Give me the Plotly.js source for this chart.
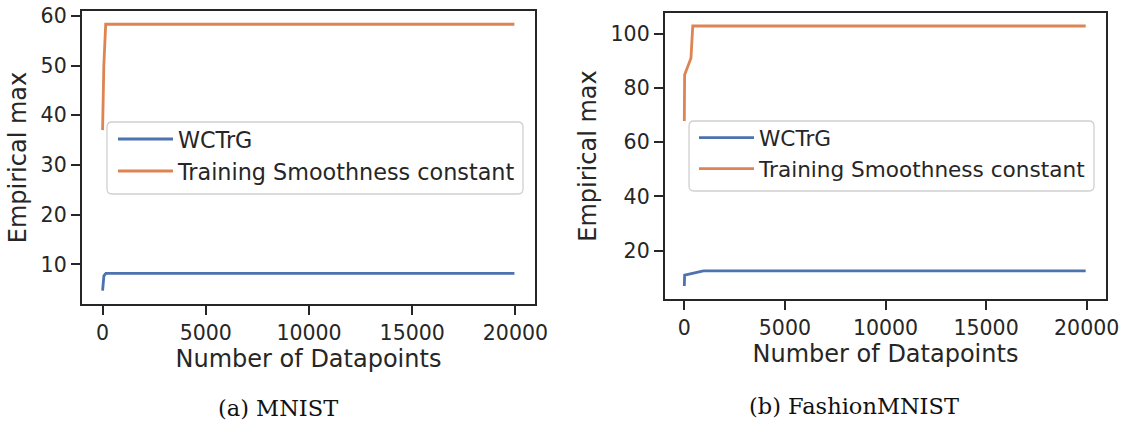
<!DOCTYPE html>
<html>
<head>
<meta charset="utf-8">
<script src="https://cdn.plot.ly/plotly-3.0.1.min.js"></script>
<style>html,body{margin:0;padding:0;background:#fff;}#chart{width:1123px;height:423px;}</style>
</head>
<body>
<div id="chart"></div>
<script>
// ---- data ----
const seriesNames = ["WCTrG", "Training Smoothness constant"];

// (a) MNIST
const mnistWctrgX = [0, 30, 63, 160, 19950];
const mnistWctrgY = [4.7, 6.9, 7.7, 8.2, 8.2];
const mnistSmoothX = [0, 60, 150, 19950];
const mnistSmoothY = [37.0, 50.0, 58.3, 58.3];

// (b) FashionMNIST
const fashionWctrgX = [0, 15, 950, 19950];
const fashionWctrgY = [7.0, 11.0, 12.6, 12.6];
const fashionSmoothX = [0, 15, 330, 420, 19950];
const fashionSmoothY = [67.8, 84.8, 90.9, 102.8, 102.8];

const xTickVals = [0, 5000, 10000, 15000, 20000];
const xTickText = ["0", "5000", "10000", "15000", "20000"];
const mnistYTicks = [10, 20, 30, 40, 50, 60];
const fashionYTicks = [20, 40, 60, 80, 100];
const captions = ["(a) MNIST", "(b) FashionMNIST"];

// ---- styling ----
const blue = "#4c72b0", orange = "#dd8452", ink = "#262626";
const W = 1123, H = 423;
const fx = p => p / W, fy = p => 1 - p / H;

const lineW = 2.8;
const traces = [
  {x: mnistWctrgX, y: mnistWctrgY, name: seriesNames[0], mode: "lines", line: {color: blue, width: lineW}, xaxis: "x", yaxis: "y", legend: "legend"},
  {x: mnistSmoothX, y: mnistSmoothY, name: seriesNames[1], mode: "lines", line: {color: orange, width: lineW}, xaxis: "x", yaxis: "y", legend: "legend"},
  {x: fashionWctrgX, y: fashionWctrgY, name: seriesNames[0], mode: "lines", line: {color: blue, width: lineW}, xaxis: "x2", yaxis: "y2", legend: "legend2"},
  {x: fashionSmoothX, y: fashionSmoothY, name: seriesNames[1], mode: "lines", line: {color: orange, width: lineW}, xaxis: "x2", yaxis: "y2", legend: "legend2"}
];

const tickFont = {family: "DejaVu Sans", size: 20.5, color: ink};
const titleFont = {family: "DejaVu Sans", size: 24, color: ink};
function xAxis(domain, range, anchor) {
  return {domain: domain, range: range, anchor: anchor, tickvals: xTickVals, ticktext: xTickText,
    ticks: "outside", ticklen: 9, tickwidth: 2, tickcolor: ink, tickfont: tickFont,
    showline: true, linewidth: 2.2, linecolor: ink, mirror: true, showgrid: false, zeroline: false,
    title: {text: "Number of Datapoints", font: titleFont, standoff: 3}, automargin: false};
}
function yAxis(domain, range, anchor, ticks) {
  return {domain: domain, range: range, anchor: anchor, tickvals: ticks,
    ticks: "outside", ticklen: 9, tickwidth: 2, tickcolor: ink, tickfont: tickFont,
    showline: true, linewidth: 2.2, linecolor: ink, mirror: true, showgrid: false, zeroline: false,
    title: {text: "Empirical max", font: titleFont, standoff: 7}, automargin: false};
}
function legendBox(x0, y0, x1, y1, r) {
  const X0 = fx(x0), X1 = fx(x1), Y0 = fy(y0), Y1 = fy(y1);
  const rx = r / W, ry = r / H;
  return {type: "path", xref: "paper", yref: "paper", layer: "above",
    path: `M${X0 + rx},${Y0} L${X1 - rx},${Y0} Q${X1},${Y0} ${X1},${Y0 - ry} L${X1},${Y1 + ry} Q${X1},${Y1} ${X1 - rx},${Y1} L${X0 + rx},${Y1} Q${X0},${Y1} ${X0},${Y1 + ry} L${X0},${Y0 - ry} Q${X0},${Y0} ${X0 + rx},${Y0} Z`,
    line: {color: "#d0d0d0", width: 1.3}, fillcolor: "rgba(255,255,255,0.8)"};
}

const layout = {
  width: W, height: H,
  margin: {l: 0, r: 0, t: 0, b: 0},
  paper_bgcolor: "#fff", plot_bgcolor: "#fff",
  showlegend: true,
  xaxis: xAxis([fx(82), fx(535)], [-997.5, 20947.5], "y"),
  yaxis: yAxis([fy(304), fy(11)], [2.02, 60.97], "x", mnistYTicks),
  xaxis2: xAxis([fx(665), fx(1106)], [-960, 20960], "y2"),
  yaxis2: yAxis([fy(299), fy(13)], [2.2, 107.6], "x2", fashionYTicks),
  legend: {x: fx(113), y: fy(118), xanchor: "left", yanchor: "top", bgcolor: "rgba(0,0,0,0)", borderwidth: 0,
    font: {family: "DejaVu Sans", size: 22.3, color: ink}, itemwidth: 55, tracegroupgap: 0},
  legend2: {x: fx(694), y: fy(117), xanchor: "left", yanchor: "top", bgcolor: "rgba(0,0,0,0)", borderwidth: 0,
    font: {family: "DejaVu Sans", size: 21.6, color: ink}, itemwidth: 55, tracegroupgap: 0},
  shapes: [legendBox(107, 122, 523, 194, 5), legendBox(689, 121, 1094, 191, 5)],
  annotations: [
    {text: captions[0], xref: "paper", yref: "paper", x: fx(278), y: fy(408), showarrow: false,
      font: {family: "DejaVu Serif", size: 22.5, color: "#111"}, xanchor: "center", yanchor: "middle"},
    {text: captions[1], xref: "paper", yref: "paper", x: fx(854), y: fy(405.5), showarrow: false,
      font: {family: "DejaVu Serif", size: 22.5, color: "#111"}, xanchor: "center", yanchor: "middle"}
  ]
};

Plotly.newPlot("chart", traces, layout, {staticPlot: true, displayModeBar: false});
</script>
</body>
</html>
